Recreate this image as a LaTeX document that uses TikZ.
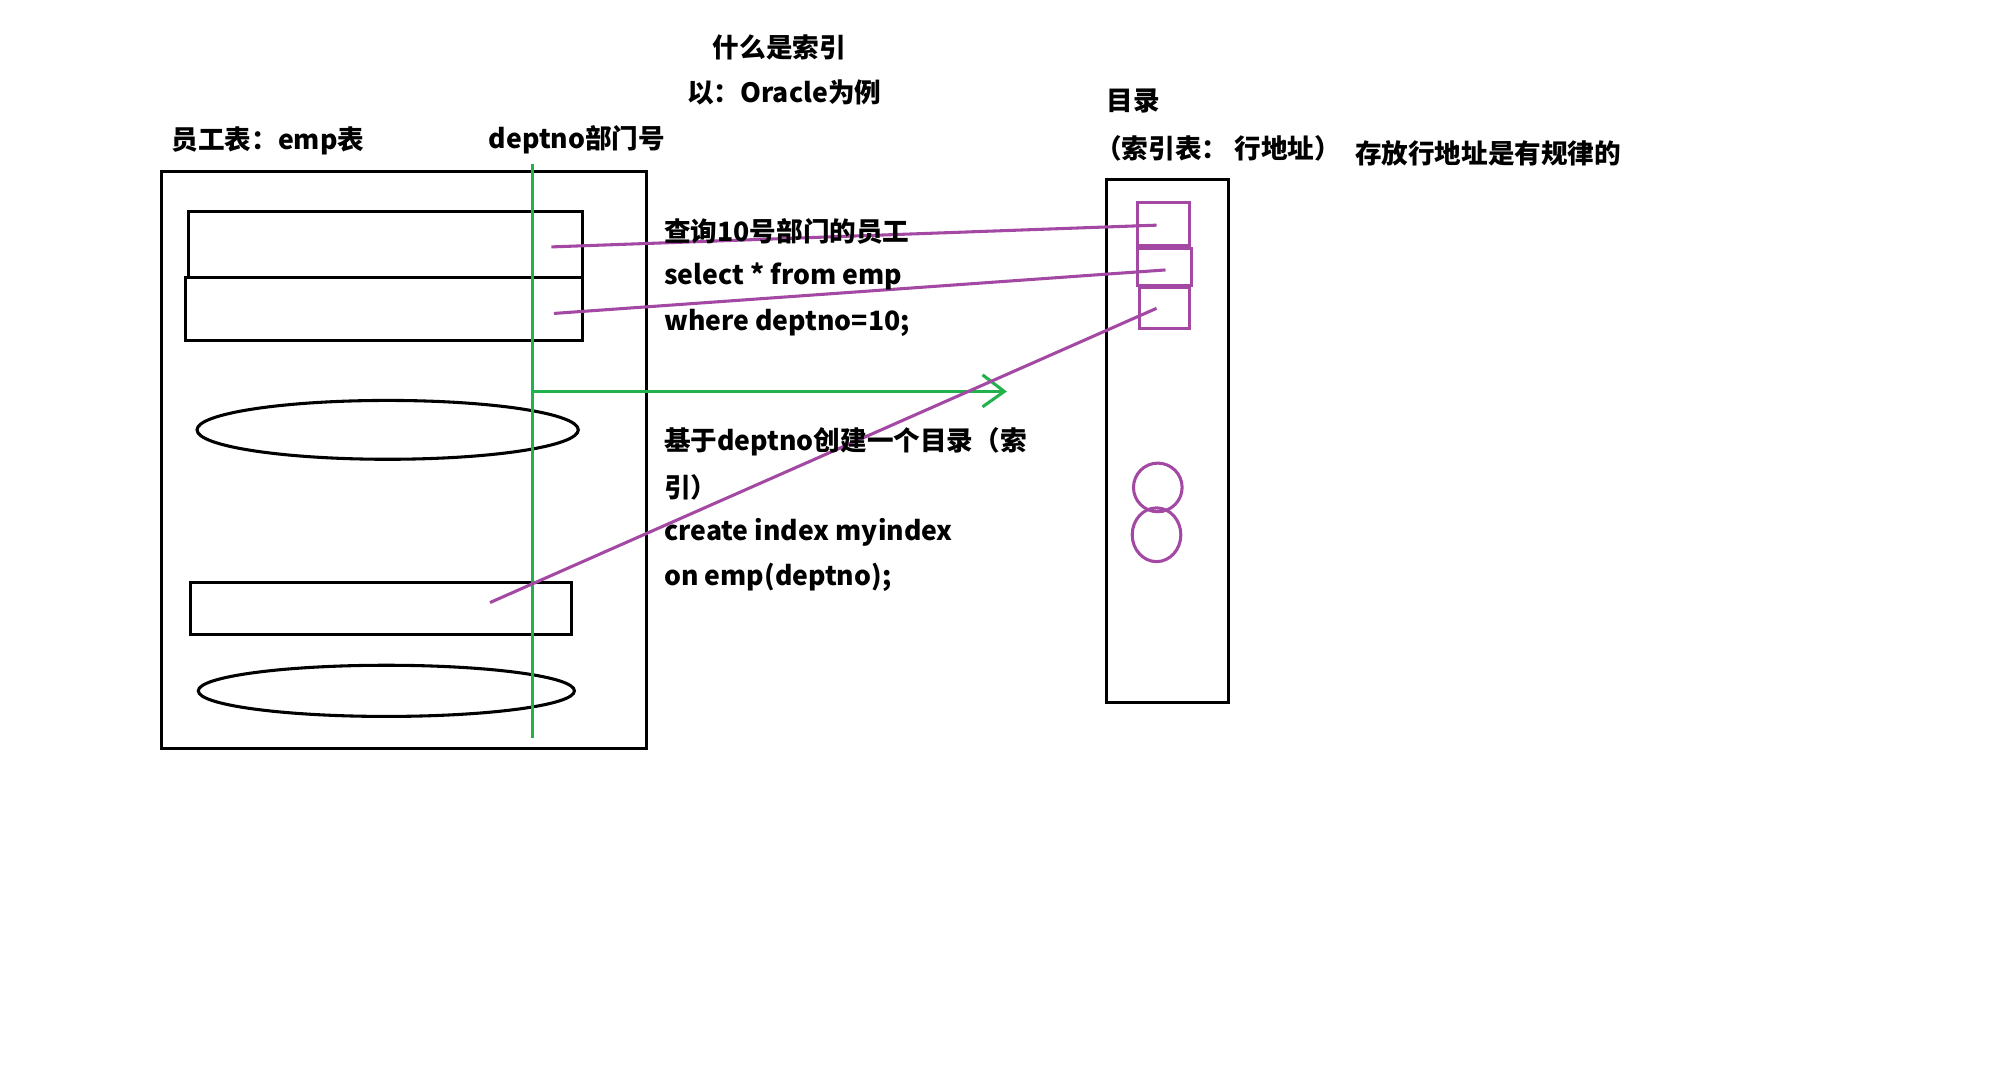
\documentclass[tikz,border=0pt]{standalone}
\usepackage{fontspec}
\usetikzlibrary{shapes.geometric}
\setmainfont{Noto Sans CJK SC}
\definecolor{pp}{HTML}{A349A4}
\definecolor{gg}{HTML}{22B14C}
\tikzset{
  lbl/.style={font=\fontsize{20.8}{24}\selectfont\bfseries, inner sep=0pt, anchor=west},
  blk/.style={draw=black, line width=2.4pt, inner sep=0pt},
  pbox/.style={draw=pp, line width=2.4pt, inner sep=0pt},
  pline/.style={draw=pp, line width=2.4pt},
  gline/.style={draw=gg, line width=2.4pt},
}
\begin{document}
\begin{tikzpicture}[x=1pt,y=-1pt]
\useasboundingbox (0,0) rectangle (1568,839.5);
% titles
\node[lbl] (t1) at (557,37) {什么是索引};
\node[lbl] (t2) at (537,72) {以：Oracle为例};
\node[lbl] (t3) at (134,110) {员工表：emp表};
\node[lbl] (t4) at (382,109) {deptno部门号};
\node[lbl] (t5) at (865,79) {目录};
\node[lbl] (t6) at (856,116) {（索引表： 行地址）};
\node[lbl] (t7) at (1059,120) {存放行地址是有规律的};
% left table
\node[blk, minimum width=379pt, minimum height=451pt] (tbl) at (315.5,359.5) {};
\node[blk, minimum width=308pt, minimum height=52pt] (r1) at (301,191) {};
\node[blk, minimum width=310pt, minimum height=49pt] (r2) at (300,241.5) {};
\node[blk, ellipse, minimum width=298pt, minimum height=46pt] (e1) at (303,336) {};
\node[blk, minimum width=298pt, minimum height=41pt] (r3) at (298,475.5) {};
\node[blk, ellipse, minimum width=294pt, minimum height=40pt] (e2) at (302,540) {};
% right index
\node[blk, minimum width=95pt, minimum height=409pt] (idx) at (912.5,344.5) {};
\node[pbox, minimum width=41pt, minimum height=34pt] (p1) at (909.5,175) {};
\node[pbox, minimum width=42pt, minimum height=29pt] (p2) at (910,208.5) {};
\node[pbox, minimum width=39pt, minimum height=32pt] (p3) at (910.5,241) {};
\node[pbox, circle, minimum size=38pt] (c1) at (905,381) {};
\node[pbox, ellipse, minimum width=38pt, minimum height=42pt] (c2) at (904,418) {};
% green
\coordinate (gtop) at (416,128);
\coordinate (gbot) at (416,577);
\coordinate (gmid) at (416,306);
\coordinate (gend) at (785,306);
\draw[gline] (gtop) -- (gbot);
\draw[gline] (gmid) -- (gend);
\draw[gline] (768,293) -- (gend) -- (768,318);
% purple lines
\coordinate (a1) at (431,193);
\coordinate (b1) at (904,176);
\coordinate (a2) at (433,245);
\coordinate (b2) at (911,211);
\coordinate (a3) at (383,471);
\coordinate (b3) at (904,241);
\draw[pline] (a1) -- (b1);
\draw[pline] (a2) -- (b2);
\draw[pline] (a3) -- (b3);
% text block
\node[lbl] (s1) at (519,181) {查询10号部门的员工};
\node[lbl] (s2) at (519,216) {select * from emp};
\node[lbl] (s3) at (519,252) {where deptno=10;};
\node[lbl] (s4) at (519,345) {基于deptno创建一个目录（索};
\node[lbl] (s5) at (519,381) {引）};
\node[lbl] (s6) at (519,416) {create index myindex};
\node[lbl] (s7) at (519,451) {on emp(deptno);};
\end{tikzpicture}
\end{document}
